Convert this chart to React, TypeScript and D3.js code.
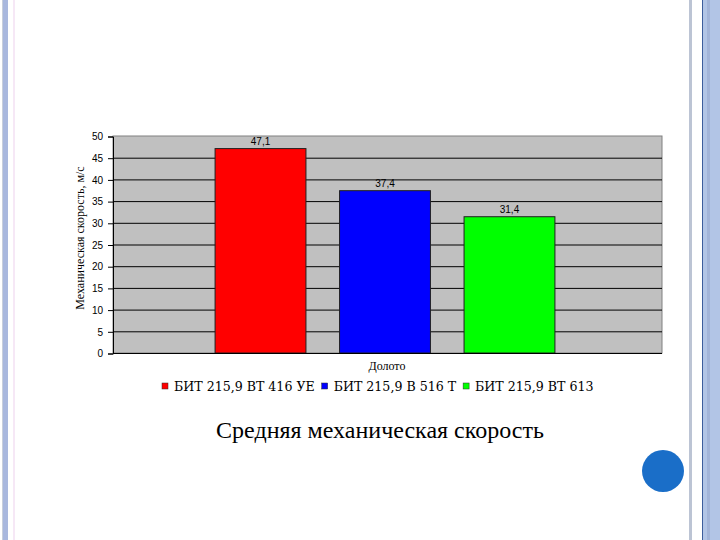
import { useEffect, useRef } from "react";
import * as d3 from "d3";

const series = ["БИТ 215,9 ВТ 416 УЕ", "БИТ 215,9 В 516 Т", "БИТ 215,9 ВТ 613"];
const values = [47.1, 37.4, 31.4];
const valueLabels = ["47,1", "37,4", "31,4"];
const colors = ["#ff0000", "#0000ff", "#00ff00"];
const yTicks = [0, 5, 10, 15, 20, 25, 30, 35, 40, 45, 50];

const App = () => {
    const svgRef = useRef<SVGSVGElement | null>(null);

    useEffect(() => {
        const svg = d3.select(svgRef.current);
        svg.selectAll("*").remove();

        // slide frame
        svg.append("rect").attr("x", 0).attr("y", 0).attr("width", 720).attr("height", 540).attr("fill", "#ffffff");
        svg.append("rect").attr("x", 2).attr("y", 0).attr("width", 1).attr("height", 540).attr("fill", "#c8cfdc");
        svg.append("rect").attr("x", 3).attr("y", 0).attr("width", 5).attr("height", 540).attr("fill", "#a9b8de");
        svg.append("rect").attr("x", 13).attr("y", 0).attr("width", 2).attr("height", 540).attr("fill", "#f6e8f6");
        svg.append("rect").attr("x", 689).attr("y", 0).attr("width", 3).attr("height", 540).attr("fill", "#bcc4d4");
        svg.append("rect").attr("x", 702).attr("y", 0).attr("width", 18).attr("height", 540).attr("fill", "#b2c5e6");
        svg.append("rect").attr("x", 702).attr("y", 0).attr("width", 1).attr("height", 540).attr("fill", "#3d5e9c");
        svg.append("rect").attr("x", 707).attr("y", 0).attr("width", 3).attr("height", 540).attr("fill", "#a2b4d8");
        svg.append("circle").attr("cx", 663).attr("cy", 471).attr("r", 21).attr("fill", "#1a6ec8");

        const left = 113, right = 662, top = 136, bottom = 353;

        const y = d3.scaleLinear().domain([0, 50]).range([bottom, top]);
        const x = d3.scaleBand<string>().domain(series).range([left, right - 5])
            .paddingInner(0.27).paddingOuter(0.82);

        // plot background
        svg.append("rect")
            .attr("x", left).attr("y", top)
            .attr("width", right - left).attr("height", bottom - top)
            .attr("fill", "#c0c0c0").attr("stroke", "#808080").attr("stroke-width", 1);

        // gridlines
        svg.append("g")
            .selectAll("line")
            .data(yTicks.filter((t) => t > 0 && t < 50))
            .enter()
            .append("line")
            .attr("x1", left).attr("x2", right)
            .attr("y1", (d) => y(d) + 0.5).attr("y2", (d) => y(d) + 0.5)
            .attr("stroke", "#000000").attr("stroke-width", 1);

        // y axis
        const yAxis = svg.append("g")
            .attr("transform", `translate(${left},0.5)`)
            .call(d3.axisLeft(y).tickValues(yTicks).tickSize(5).tickPadding(5));
        yAxis.select(".domain").attr("stroke", "#000000");
        yAxis.selectAll("text")
            .attr("font-family", "'Liberation Sans', Arial, sans-serif")
            .attr("font-size", "10px")
            .attr("fill", "#000000");

        // bars
        svg.append("g")
            .selectAll("rect")
            .data(values)
            .enter()
            .append("rect")
            .attr("x", (_, i) => x(series[i])!)
            .attr("y", (d) => y(d))
            .attr("width", x.bandwidth())
            .attr("height", (d) => bottom - y(d))
            .attr("fill", (_, i) => colors[i])
            .attr("stroke", "#202020")
            .attr("stroke-width", 1);

        // x axis line
        svg.append("line")
            .attr("x1", left).attr("x2", right)
            .attr("y1", bottom + 0.5).attr("y2", bottom + 0.5)
            .attr("stroke", "#000000");

        // value labels
        svg.append("g")
            .selectAll("text")
            .data(values)
            .enter()
            .append("text")
            .attr("x", (_, i) => x(series[i])! + x.bandwidth() / 2)
            .attr("y", (d) => y(d) - 4)
            .attr("text-anchor", "middle")
            .attr("font-family", "'Liberation Sans', Arial, sans-serif")
            .attr("font-size", "10px")
            .text((_, i) => valueLabels[i]);

        // axis titles
        svg.append("text")
            .attr("transform", `translate(84,238) rotate(-90)`)
            .attr("text-anchor", "middle")
            .attr("font-family", "'Liberation Serif', serif")
            .attr("font-size", "12px")
            .text("Механическая скорость, м/с");

        svg.append("text")
            .attr("x", 387).attr("y", 370)
            .attr("text-anchor", "middle")
            .attr("font-family", "'Liberation Serif', serif")
            .attr("font-size", "12px")
            .text("Долото");

        // legend
        const legend = svg.append("g");
        let lx = 162;
        series.forEach((s, i) => {
            legend.append("rect")
                .attr("x", lx).attr("y", 383)
                .attr("width", 6).attr("height", 6)
                .attr("fill", colors[i]).attr("stroke", "#303030").attr("stroke-width", 0.5);
            const t = legend.append("text")
                .attr("x", lx + 12).attr("y", 391)
                .attr("font-family", "'DejaVu Serif', serif")
                .attr("font-size", "12.6px")
                .text(s);
            const w = (t.node() as SVGTextElement).getComputedTextLength();
            lx += 12 + w + 7;
        });

        // caption
        svg.append("text")
            .attr("x", 380).attr("y", 438)
            .attr("text-anchor", "middle")
            .attr("font-family", "'Liberation Serif', 'Times New Roman', serif")
            .attr("font-size", "24px")
            .text("Средняя механическая скорость");
    }, []);

    return (
        <svg
            ref={svgRef}
            width={720}
            height={540}
            style={{ position: "absolute", left: 0, top: 0 }}
        ></svg>
    );
};

export default App;
